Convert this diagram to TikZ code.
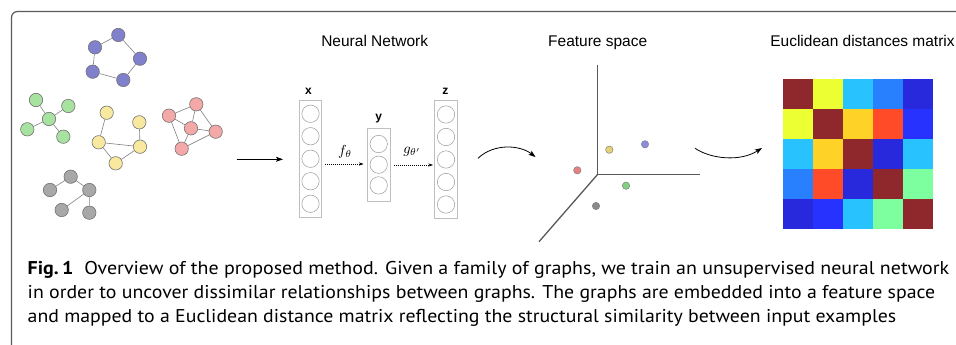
\documentclass[tikz,border=0pt]{standalone}
\usepackage{fix-cm}
\usepackage{fontspec}
\usepackage{graphicx}
\setmainfont{Liberation Sans}
\newfontfamily\capfont{PT Sans}
\usetikzlibrary{arrows.meta}
\definecolor{frameC}{HTML}{5A5A5A}
\definecolor{gBlue}{HTML}{8080CC}
\definecolor{gGreen}{HTML}{A8E2A0}
\definecolor{gYellow}{HTML}{F8E8A0}
\definecolor{gRed}{HTML}{F4A8A8}
\definecolor{gGray}{HTML}{A8A8A8}
\definecolor{dRed}{HTML}{E88080}
\definecolor{dYellow}{HTML}{E8D374}
\definecolor{dBlue}{HTML}{8C8CE0}
\definecolor{dGreen}{HTML}{7FD080}
\definecolor{dGray}{HTML}{8A8A8A}
\definecolor{mDR}{RGB}{142,40,44}
\definecolor{mYE}{RGB}{236,255,50}
\definecolor{mCY}{RGB}{40,195,255}
\definecolor{mBL}{RGB}{40,128,255}
\definecolor{mDB}{RGB}{40,40,220}
\definecolor{mBB}{RGB}{40,50,255}
\definecolor{mOR}{RGB}{255,210,40}
\definecolor{mRO}{RGB}{255,75,40}
\definecolor{mGR}{RGB}{125,255,160}
\begin{document}
\begin{tikzpicture}[x=1pt,y=-1pt,
 gnode/.style={circle, draw=black!55, line width=0.6pt, minimum size=13.4pt, inner sep=0pt},
 gedge/.style={draw=black!50, line width=0.6pt},
 nunit/.style={circle, draw=black!40, line width=0.5pt, minimum size=17.4pt, inner sep=0pt},
 layerbox/.style={draw=black!25, line width=0.7pt, inner sep=0pt, minimum width=22.6pt},
 ttl/.style={font=\fontsize{15.5}{18}\selectfont, anchor=base, inner sep=0pt},
 lbl/.style={font=\fontsize{12}{14}\selectfont\bfseries, anchor=base, inner sep=0pt},
 mlbl/.style={inner sep=0pt},
 fdot/.style={circle, draw=black!50, line width=0.5pt, minimum size=7.4pt, inner sep=0pt},
 mcell/.style={minimum size=30.2pt, inner sep=0pt, draw=none},
 captxt/.style={font=\capfont\fontsize{18.5}{22}\selectfont, anchor=base west, inner sep=0pt},
 arr/.style={-{Stealth[length=7pt,width=5pt,inset=1.5pt]}, line width=0.8pt},
 dasharr/.style={-{Stealth[length=4.5pt,width=3pt]}, line width=0.6pt, dash pattern=on 1.2pt off 0.8pt},
 axisline/.style={draw=black!65, line width=1.3pt},
]
\useasboundingbox (0,0) rectangle (956,345);
% frame
\draw[frameC, line width=1.2pt, rounded corners=6pt] (11.5,346) -- (11.5,11.5) -- (957,11.5);

% ---- graphs ----
% blue
\node[gnode, fill=gBlue] (b1) at (118.3,35) {};
\node[gnode, fill=gBlue] (b2) at (95,47.3) {};
\node[gnode, fill=gBlue] (b3) at (140,58.7) {};
\node[gnode, fill=gBlue] (b4) at (92.7,71.7) {};
\node[gnode, fill=gBlue] (b5) at (123.3,80) {};
\draw[gedge] (b1) -- (b2) (b1) -- (b3) (b3) -- (b5) (b5) -- (b4) (b4) -- (b2);
% green
\node[gnode, fill=gGreen] (g0) at (49,119) {};
\node[gnode, fill=gGreen] (g1) at (36,100) {};
\node[gnode, fill=gGreen] (g2) at (68.3,106) {};
\node[gnode, fill=gGreen] (g3) at (27.3,129.3) {};
\node[gnode, fill=gGreen] (g4) at (63.3,136.7) {};
\draw[gedge] (g0) -- (g1) (g0) -- (g2) (g0) -- (g3) (g0) -- (g4);
% yellow
\node[gnode, fill=gYellow] (y1) at (106.7,112.7) {};
\node[gnode, fill=gYellow] (y2) at (139.3,122.3) {};
\node[gnode, fill=gYellow] (y3) at (98.7,142.3) {};
\node[gnode, fill=gYellow] (y4) at (140,146.7) {};
\node[gnode, fill=gYellow] (y5) at (115.7,163.3) {};
\draw[gedge] (y1) -- (y3) (y2) -- (y4) (y3) -- (y4) (y3) -- (y5) (y5) -- (y4);
% red
\node[gnode, fill=gRed] (r1) at (169,115.7) {};
\node[gnode, fill=gRed] (r2) at (196.3,104.3) {};
\node[gnode, fill=gRed] (r3) at (191,128.3) {};
\node[gnode, fill=gRed] (r4) at (215.7,131.7) {};
\node[gnode, fill=gRed] (r5) at (181.7,148.7) {};
\draw[gedge] (r1) -- (r2) (r1) -- (r3) (r1) -- (r5) (r2) -- (r3) (r2) -- (r4) (r3) -- (r4) (r3) -- (r5) (r4) -- (r5);
% gray
\node[gnode, fill=gGray] (k1) at (70.7,176.7) {};
\node[gnode, fill=gGray] (k2) at (50,190) {};
\node[gnode, fill=gGray] (k3) at (89.3,190) {};
\node[gnode, fill=gGray] (k4) at (61.7,210) {};
\node[gnode, fill=gGray] (k5) at (89.3,212.7) {};
\draw[gedge] (k1) -- (k2) (k1) -- (k3) (k3) -- (k4) (k3) -- (k5);

% main arrow
\coordinate (a1s) at (236.7,159.3);
\coordinate (a1e) at (283,159.3);
\draw[arr] (a1s) -- (a1e);

% ---- neural network ----
\node[ttl] (nnt) at (374.7,46.7) {Neural Network};
\node[layerbox, minimum height=116.5pt] (xbox) at (310.5,158.75) {};
\foreach \i in {0,...,4} \node[nunit] (xu\i) at (310.5,113.75+22.5*\i) {};
\node[lbl] (xl) at (308.5,94) {x};
\node[layerbox, minimum height=72.7pt] (ybox) at (378.7,164.6) {};
\foreach \i in {0,1,2} \node[nunit] (yu\i) at (378.7,144+20.7*\i) {};
\node[lbl] (yl) at (378.7,120) {y};
\node[layerbox, minimum height=117.5pt] (zbox) at (446,159.5) {};
\foreach \i in {0,...,4} \node[nunit] (zu\i) at (446,114.5+22.5*\i) {};
\node[lbl] (zl) at (445.3,94) {z};
\coordinate (fs) at (325,164);
\coordinate (fe) at (363.5,164);
\draw[dasharr] (fs) -- (fe);
\node[mlbl] (fl) at (345,152) {\scalebox{1.45}{$f_\theta$}};
\coordinate (gs) at (394,165);
\coordinate (ge) at (433,165);
\draw[dasharr] (gs) -- (ge);
\node[mlbl] (gl) at (412,152) {\scalebox{1.45}{$g_{\theta'}$}};

% curved arrow 1
\coordinate (c1s) at (478,158.3);
\coordinate (c1e) at (535.5,157);
\draw[arr] (c1s) .. controls (494,143) and (520,145) .. (c1e);

% ---- feature space ----
\node[ttl] (fst) at (597.7,46.7) {Feature space};
\coordinate (o) at (597.7,174.3);
\coordinate (ax1) at (597.7,65);
\coordinate (ax2) at (700,174.3);
\coordinate (ax3) at (539,241.7);
\draw[axisline] (ax1) -- (o) -- (ax2);
\draw[axisline] (o) -- (ax3);
\node[fdot, fill=dRed] (pr) at (577.3,170.3) {};
\node[fdot, fill=dYellow] (py) at (609.3,149.7) {};
\node[fdot, fill=dBlue] (pb) at (645,144.3) {};
\node[fdot, fill=dGreen] (pg) at (626,185.7) {};
\node[fdot, fill=dGray] (pk) at (596,206) {};

% curved arrow 2
\coordinate (c2s) at (695,148.3);
\coordinate (c2e) at (762,148);
\draw[arr] (c2s) .. controls (711,159) and (740,162) .. (c2e);

% ---- matrix ----
\node[ttl] (edt) at (862.5,46.7) {Euclidean distances matrix};
\foreach \row [count=\r] in {{mDR,mYE,mCY,mBL,mDB},{mYE,mDR,mOR,mRO,mBB},{mCY,mOR,mDR,mDB,mCY},{mBL,mRO,mDB,mDR,mGR},{mDB,mBB,mCY,mGR,mDR}}
  \foreach \c [count=\k] in \row
    \node[mcell, fill=\c] (m\r\k) at ({783.5+29.8*(\k-0.5)},{79.5+29.8*(\r-0.5)}) {};

% ---- caption ----
\node[captxt] (cap1) at (27.5,274) {\resizebox{921.5pt}{\height}{\textbf{Fig.\,1}\hspace{0.55em}Overview of the proposed method. Given a family of graphs, we train an unsupervised neural network}};
\node[captxt] (cap2) at (27.5,298) {\resizebox{907.5pt}{\height}{in order to uncover dissimilar relationships between graphs. The graphs are embedded into a feature space}};
\node[captxt] (cap3) at (27.5,322) {\resizebox{868.5pt}{\height}{and mapped to a Euclidean distance matrix reflecting the structural similarity between input examples}};
\end{tikzpicture}
\end{document}
